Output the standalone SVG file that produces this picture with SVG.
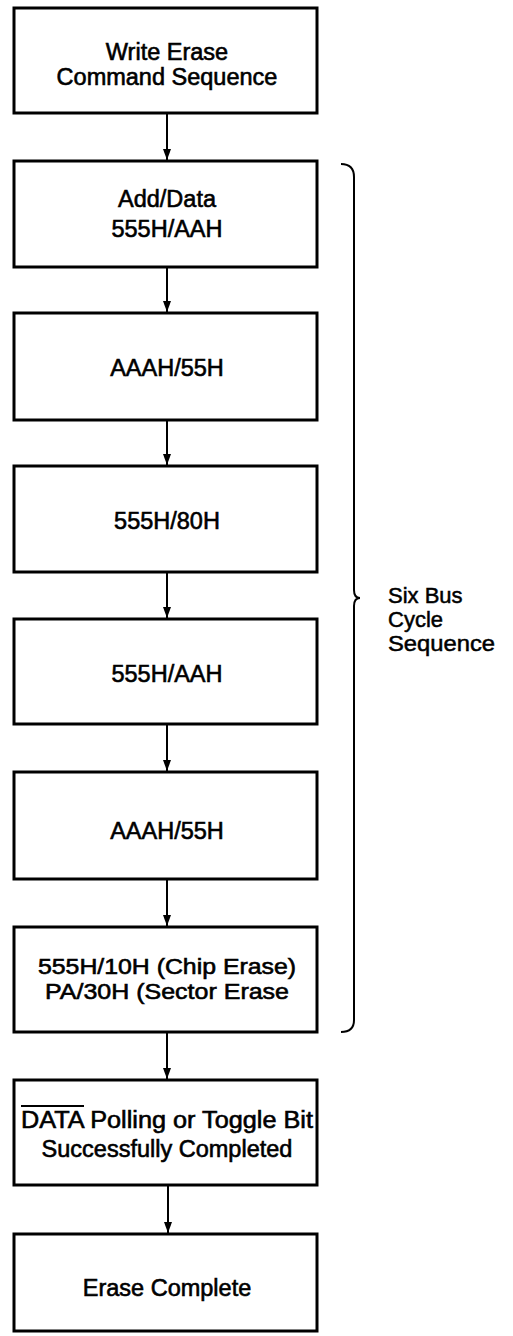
<svg xmlns="http://www.w3.org/2000/svg" width="513" height="1336" viewBox="0 0 513 1336">
<style>
.box{fill:#fff;stroke:#000;stroke-width:3}
.t{font-family:"Liberation Sans",Arial,sans-serif;font-size:23.5px;fill:#000;stroke:#000;stroke-width:0.6;text-anchor:middle}
.s{font-size:22.5px}
.l{font-family:"Liberation Sans",Arial,sans-serif;font-size:22px;fill:#000;stroke:#000;stroke-width:0.5}
.c{stroke:#000;stroke-width:2;fill:none}
</style>
<rect width="513" height="1336" fill="#fff"/>
<g id="connectors">
<path class="c" d="M167,113 V160"/>
<path d="M163,149 L171,149 L167,160 Z"/>
<path class="c" d="M167,267 V312"/>
<path d="M163,301 L171,301 L167,312 Z"/>
<path class="c" d="M167,420 V465"/>
<path d="M163,454 L171,454 L167,465 Z"/>
<path class="c" d="M167,572 V618"/>
<path d="M163,607 L171,607 L167,618 Z"/>
<path class="c" d="M167,724 V771"/>
<path d="M163,760 L171,760 L167,771 Z"/>
<path class="c" d="M167,879 V926"/>
<path d="M163,915 L171,915 L167,926 Z"/>
<path class="c" d="M167,1032 V1079"/>
<path d="M163,1068 L171,1068 L167,1079 Z"/>
<path class="c" d="M168,1185 V1233"/>
<path d="M164,1222 L172,1222 L168,1233 Z"/>
</g>
<g id="n1"><rect class="box" x="14" y="8" width="303" height="105"/>
<text class="t" x="167" y="60">Write Erase</text>
<text class="t" x="167" y="85">Command Sequence</text></g>
<g id="n2"><rect class="box" x="14" y="161" width="303" height="106"/>
<text class="t" x="167" y="207">Add/Data</text>
<text class="t" x="167" y="237">555H/AAH</text></g>
<g id="n3"><rect class="box" x="14" y="313" width="303" height="107"/>
<text class="t" x="167" y="376">AAAH/55H</text></g>
<g id="n4"><rect class="box" x="14" y="466" width="303" height="106"/>
<text class="t" x="167" y="529">555H/80H</text></g>
<g id="n5"><rect class="box" x="14" y="619" width="303" height="105"/>
<text class="t" x="167" y="682">555H/AAH</text></g>
<g id="n6"><rect class="box" x="14" y="772" width="303" height="107"/>
<text class="t" x="167" y="839">AAAH/55H</text></g>
<g id="n7"><rect class="box" x="14" y="927" width="303" height="105"/>
<text class="t s" x="167" y="974" textLength="258" lengthAdjust="spacingAndGlyphs">555H/10H (Chip Erase)</text>
<text class="t s" x="167" y="999" textLength="244" lengthAdjust="spacingAndGlyphs">PA/30H (Sector Erase</text></g>
<g id="n8"><rect class="box" x="14" y="1080" width="303" height="105"/>
<text class="t" x="21" y="1128" style="text-anchor:start" textLength="292" lengthAdjust="spacingAndGlyphs">DATA Polling or Toggle Bit</text>
<line x1="21" y1="1106" x2="84" y2="1106" stroke="#000" stroke-width="2"/>
<text class="t" x="167" y="1157">Successfully Completed</text></g>
<g id="n9"><rect class="box" x="14" y="1234" width="303" height="97"/>
<text class="t" x="167" y="1296">Erase Complete</text></g>
<g id="brace">
<path class="c" d="M341,164 Q354,164 354,177 L354,590 Q354,598 360,598 Q354,598 354,606 L354,1020 Q354,1032 341,1032"/>
<text class="l" x="388" y="603">Six Bus</text>
<text class="l" x="388" y="627">Cycle</text>
<text class="l" x="388" y="651" textLength="107" lengthAdjust="spacingAndGlyphs">Sequence</text>
</g>
</svg>
